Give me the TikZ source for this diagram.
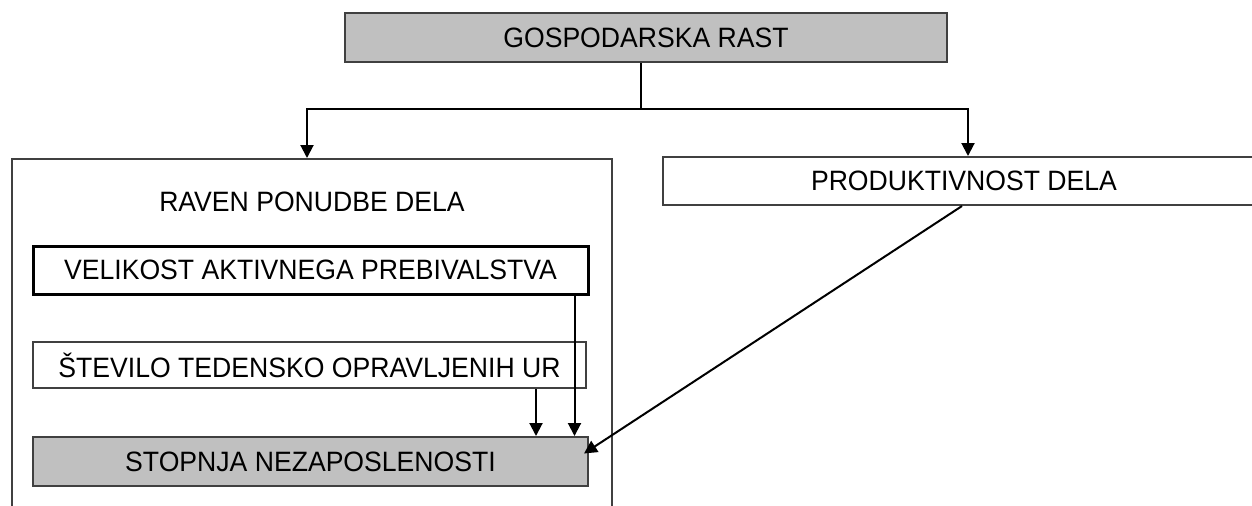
\documentclass[tikz,border=0pt]{standalone}
\usepackage{fontspec}
\setmainfont[FakeStretch=0.95]{Liberation Sans}
\usetikzlibrary{arrows.meta,calc}

\definecolor{boxgray}{HTML}{C0C0C0}
\definecolor{boxline}{HTML}{404040}

\tikzset{
  box/.style={draw=boxline, line width=1pt, inner sep=0pt, font=\fontsize{14}{16}\selectfont},
  graybox/.style={box, fill=boxgray},
  lbl/.style={inner sep=0pt, font=\fontsize{14}{16}\selectfont},
  arr/.style={line width=1pt, -{Triangle[length=6.5pt,width=6.5pt]}}
}

\begin{document}
\begin{tikzpicture}[x=0.5pt, y=-0.5pt]

\path[use as bounding box, clip] (0,0) rectangle (1252,505);

\node[graybox, minimum width=301pt, minimum height=24.5pt] (gosp) at (646,37.5) {GOSPODARSKA RAST};
\node[box, minimum width=301pt, minimum height=24pt] (prod) at (964,181) {PRODUKTIVNOST DELA};

% okvir za ponudbo dela
\node[box, minimum width=300pt, minimum height=191pt] (ponudba) at (312,350) {};
\node[lbl] (ponudbalbl) at (312,202) {RAVEN PONUDBE DELA};

\node[box, draw=black, line width=1.5pt, minimum width=277.5pt, minimum height=24pt] (velik) at (310.5,270) {VELIKOST AKTIVNEGA PREBIVALSTVA};
\node[box, minimum width=276.5pt, minimum height=23pt] (stev) at (309.5,365) {ŠTEVILO TEDENSKO OPRAVLJENIH UR};
\node[graybox, minimum width=277.5pt, minimum height=24.5pt] (stop) at (310.5,461.5) {STOPNJA NEZAPOSLENOSTI};

\coordinate (split) at (641,109);
\draw[line width=1pt] (gosp.south -| split) -- (split);
\draw[arr] (split) -| ($(ponudba.north)+(-5,0)$);
\draw[arr] (split) -| ($(prod.north)+(4,0)$);

\draw[arr] ($(velik.south east)+(-15,0)$) coordinate (v1) -- (v1 |- stop.north);
\draw[arr] ($(stev.south east)+(-51,0)$) coordinate (s1) -- (s1 |- stop.north);
\draw[arr] ($(prod.south)+(-2,0)$) -- ($(stop.east)+(-5,-8)$);

\end{tikzpicture}
\end{document}
